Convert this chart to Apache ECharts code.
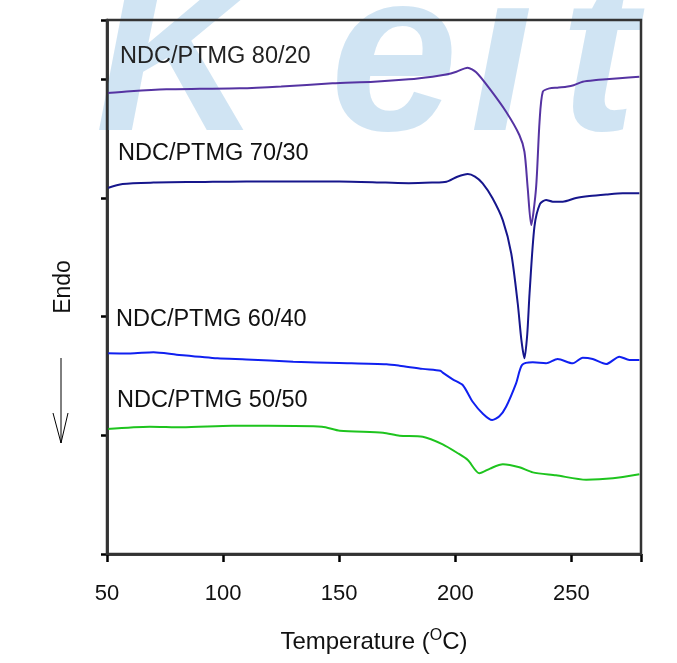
<!DOCTYPE html>
<html>
<head>
<meta charset="utf-8">
<script src="https://cdn.jsdelivr.net/npm/echarts@6/dist/echarts.min.js"></script>
<style>html,body{margin:0;padding:0;background:#fff}#c{width:677px;height:663px}</style>
</head>
<body>
<div id="c"></div>
<script>
const xTicks = [50, 100, 150, 200, 250];
const labels = ['NDC/PTMG 80/20', 'NDC/PTMG 70/30', 'NDC/PTMG 60/40', 'NDC/PTMG 50/50'];

const s8020 = [[50,3.885],[60,3.9],[75.6,3.916],[90,3.92],[107.1,3.924],[125,3.94],[147.1,3.966],[165,3.98],[180,4.0],[190.2,4.022],[196,4.04],[200.5,4.064],[205.3,4.098],[209,4.06],[214.7,3.924],[221.9,3.727],[227.6,3.531],[229.8,3.39],[231.2,3.084],[232.7,2.772],[234.8,3.084],[236.3,3.643],[237.7,3.896],[240.6,3.924],[244,3.93],[247.8,3.938],[251,3.95],[254.9,3.98],[260.7,3.994],[265,4.0],[270.7,4.009],[279.3,4.022]];

const s7030 = [[50,3.082],[56.7,3.118],[70,3.13],[90,3.135],[110,3.14],[130,3.138],[150,3.14],[170,3.13],[180,3.125],[190,3.13],[196.2,3.137],[200.9,3.179],[205.4,3.202],[208.5,3.18],[211.8,3.124],[216,3.0],[220.5,2.812],[224.1,2.534],[226.9,2.113],[228.5,1.8],[229.8,1.649],[231,1.85],[232,2.197],[234.1,2.758],[236.5,2.95],[239.1,2.983],[242,2.969],[246.3,2.969],[252,3.0],[257.8,3.017],[265,3.03],[272.1,3.04],[279.3,3.04]];

const s6040 = [[50,1.691],[60,1.69],[70,1.7],[80,1.68],[97.6,1.649],[110,1.64],[130.2,1.62],[150,1.61],[170.4,1.599],[176,1.587],[186,1.56],[193.6,1.545],[194.6,1.528],[198.9,1.472],[203.2,1.424],[207.5,1.283],[212,1.18],[215.9,1.129],[219,1.16],[221.9,1.241],[226.2,1.438],[228.8,1.593],[233.4,1.615],[239.1,1.607],[244.1,1.643],[250.6,1.607],[254.9,1.654],[259.2,1.643],[265,1.601],[270.7,1.663],[275,1.635],[279.3,1.635]];

const s5050 = [[50,1.053],[68.4,1.073],[82.3,1.068],[103.9,1.081],[119.4,1.081],[142.6,1.073],[150.3,1.039],[168.9,1.022],[176,0.997],[186,0.988],[194.6,0.924],[201.1,0.849],[205.4,0.792],[210.4,0.68],[215,0.72],[220.5,0.756],[227.6,0.731],[233.4,0.688],[243.4,0.663],[256.4,0.626],[267.9,0.638],[279.3,0.672]];

const chart = echarts.init(document.getElementById('c'));
const F = 'Liberation Sans, Arial, sans-serif';
function mk(name, data, color) {
  return {name, type: 'line', data, showSymbol: false, smooth: 0.25,
    lineStyle: {color, width: 2}, z: 5};
}
const wm = ['K','e','i','t'];
const wmX = [95, 330, 470, 560];
chart.setOption({
  animation: false,
  grid: {left: 107, right: 36, top: 20, bottom: 109, show: true, borderColor: '#333', borderWidth: 2.5, z: 6,
    containLabel: false, outerBoundsMode: 'none'},
  xAxis: {
    type: 'value', min: 50, max: 280, interval: 50,
    axisLine: {onZero: false, lineStyle: {color: '#000', width: 2.5}},
    axisTick: {length: 8, lineStyle: {color: '#000', width: 2.5}},
    axisLabel: {fontSize: 22, color: '#111', fontFamily: F, margin: 29,
      formatter: v => xTicks.includes(v) ? String(v) : ''},
    splitLine: {show: false},
    name: 'Temperature ({s|O}C)', nameLocation: 'middle', nameGap: 74,
    nameTextStyle: {fontSize: 24, color: '#111', fontFamily: F,
      rich: {s: {fontSize: 16, verticalAlign: 'top', padding: [0,0,12,0], color: '#111', fontFamily: F}}}
  },
  yAxis: {
    type: 'value', min: 0, max: 4.5, interval: 1,
    axisLine: {show: true, lineStyle: {color: '#000', width: 2.5}},
    axisTick: {show: true, length: 6, lineStyle: {color: '#000', width: 2.5}},
    axisLabel: {show: false},
    splitLine: {show: false},
    name: 'Endo', nameLocation: 'middle', nameGap: 32, nameRotate: 90,
    nameTextStyle: {fontSize: 23, color: '#111', fontFamily: F}
  },
  series: [
    mk(labels[0], s8020, '#5533a2'),
    mk(labels[1], s7030, '#16168c'),
    mk(labels[2], s6040, '#1020f0'),
    mk(labels[3], s5050, '#1ec41e')
  ],
  graphic: [
    ...wm.map((t, i) => ({type: 'text', left: wmX[i], top: -48, z: 1, silent: true,
      style: {text: t, font: 'italic bold 230px ' + F, fill: 'rgba(120,178,220,0.35)'}})),
    {type: 'text', left: 120, top: 45, z: 10, style: {text: labels[0], font: '23.5px ' + F, fill: '#222'}},
    {type: 'text', left: 118, top: 142, z: 10, style: {text: labels[1], font: '23.5px ' + F, fill: '#111'}},
    {type: 'text', left: 116, top: 308, z: 10, style: {text: labels[2], font: '23.5px ' + F, fill: '#111'}},
    {type: 'text', left: 117, top: 389, z: 10, style: {text: labels[3], font: '23.5px ' + F, fill: '#111'}},
    {type: 'line', z: 10, shape: {x1: 61, y1: 358, x2: 61, y2: 443}, style: {stroke: '#000', lineWidth: 1}},
    {type: 'polyline', z: 10, shape: {points: [[53, 413], [61, 443], [68, 413]]}, style: {stroke: '#000', lineWidth: 1, fill: null}}
  ]
});
</script>
</body>
</html>
